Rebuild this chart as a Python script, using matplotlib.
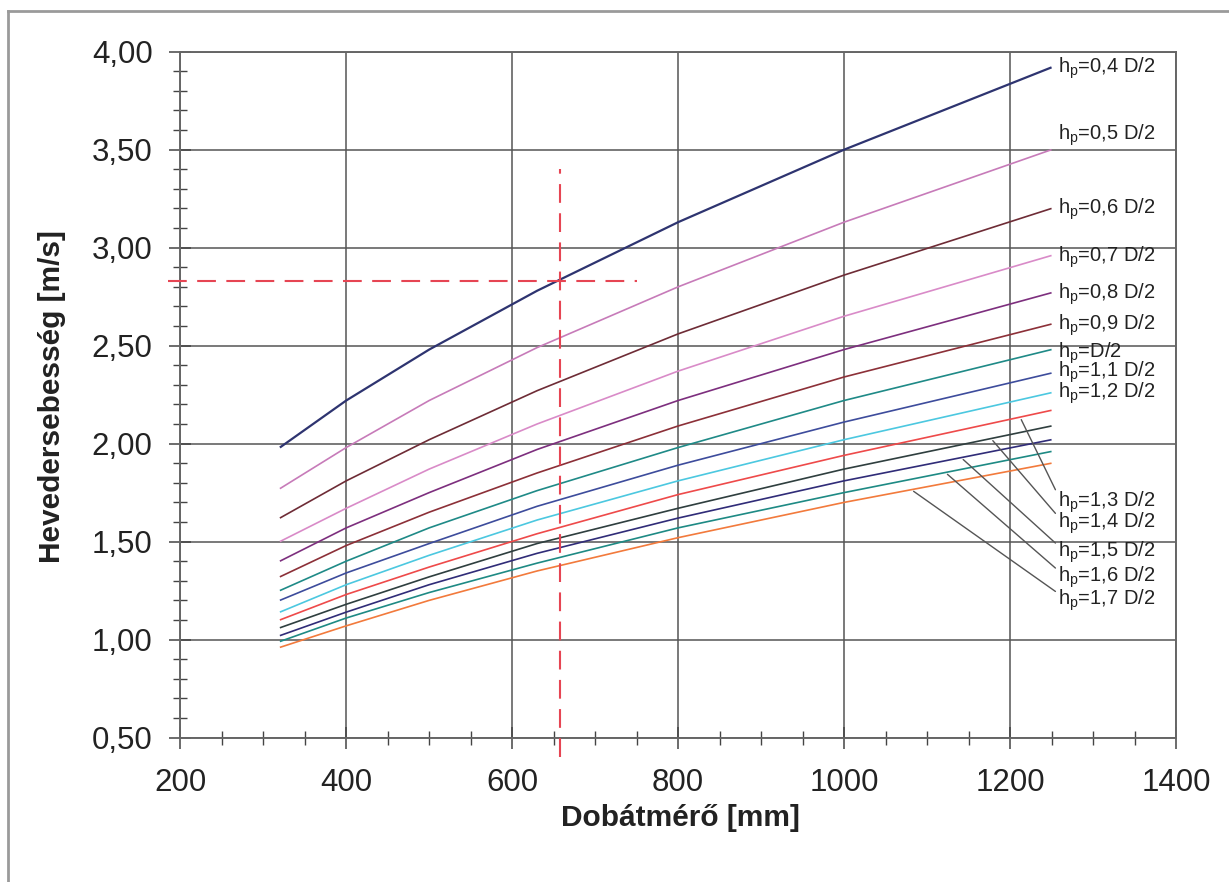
import numpy as np
import matplotlib
matplotlib.use("Agg")
import matplotlib.pyplot as plt
from matplotlib.lines import Line2D
from matplotlib.ticker import MultipleLocator, FuncFormatter

plt.rcParams["font.family"] = ["Liberation Sans", "DejaVu Sans"]
plt.rcParams["mathtext.fontset"] = "custom"
plt.rcParams["mathtext.rm"] = "Liberation Sans"
plt.rcParams["mathtext.it"] = "Liberation Sans:italic"

# drum diameters [mm]
diameters = [320, 400, 500, 630, 800, 1000, 1250]

# belt speed [m/s] for each pole distance h_p (in units of D/2)
hp_labels = ["0,4 D/2", "0,5 D/2", "0,6 D/2", "0,7 D/2", "0,8 D/2", "0,9 D/2", "D/2",
             "1,1 D/2", "1,2 D/2", "1,3 D/2", "1,4 D/2", "1,5 D/2", "1,6 D/2", "1,7 D/2"]
v_04 = [1.98, 2.22, 2.48, 2.78, 3.13, 3.50, 3.92]
v_05 = [1.77, 1.98, 2.22, 2.49, 2.80, 3.13, 3.50]
v_06 = [1.62, 1.81, 2.02, 2.27, 2.56, 2.86, 3.20]
v_07 = [1.50, 1.67, 1.87, 2.10, 2.37, 2.65, 2.96]
v_08 = [1.40, 1.57, 1.75, 1.97, 2.22, 2.48, 2.77]
v_09 = [1.32, 1.48, 1.65, 1.85, 2.09, 2.34, 2.61]
v_10 = [1.25, 1.40, 1.57, 1.76, 1.98, 2.22, 2.48]
v_11 = [1.20, 1.34, 1.49, 1.68, 1.89, 2.11, 2.36]
v_12 = [1.14, 1.28, 1.43, 1.61, 1.81, 2.02, 2.26]
v_13 = [1.10, 1.23, 1.37, 1.54, 1.74, 1.94, 2.17]
v_14 = [1.06, 1.18, 1.32, 1.49, 1.67, 1.87, 2.09]
v_15 = [1.02, 1.14, 1.28, 1.44, 1.62, 1.81, 2.02]
v_16 = [0.99, 1.11, 1.24, 1.39, 1.57, 1.75, 1.96]
v_17 = [0.96, 1.07, 1.20, 1.35, 1.52, 1.70, 1.90]
speeds = [v_04, v_05, v_06, v_07, v_08, v_09, v_10,
          v_11, v_12, v_13, v_14, v_15, v_16, v_17]

# worked example read-off: D = 658 mm -> v = 2.83 m/s
example_d = 658
example_v = 2.83

colors = ["#2e3470", "#c77bb9", "#6e2c36", "#d98bc8", "#7d2f7e", "#8c3038", "#1f8a87",
          "#3d4c9c", "#4cc8e0", "#ee4a4a", "#2f3f3f", "#302c78", "#1e8a84", "#f27a3c"]
widths = [1.6] + [1.2] * 13

# label placement on the right side
label_y = [3.917, 3.575, 3.197, 2.953, 2.764, 2.606, 2.463, 2.366, 2.259,
           1.703, 1.595, 1.447, 1.32, 1.203]
# lower curves get a leader line from this diameter on the curve
leader_from = {9: 1212, 10: 1177, 11: 1141, 12: 1122, 13: 1081}

fig = plt.figure(figsize=(12.29, 8.82), dpi=100)
ax = fig.add_axes([0.1467, 0.1638, 0.8102, 0.7776])

for v, c, lw in zip(speeds, colors, widths):
    ax.plot(diameters, v, color=c, lw=lw, solid_capstyle="butt", zorder=3)

for i, (txt, ly) in enumerate(zip(hp_labels, label_y)):
    label = r"h$_{\mathregular{p}}$=" + txt
    if i in leader_from:
        d0 = leader_from[i]
        v0 = np.interp(d0, diameters, speeds[i])
        ax.annotate(label, xy=(d0, v0), xytext=(1258, ly), fontsize=14.5,
                    color="#222222", va="center", ha="left", annotation_clip=False,
                    arrowprops=dict(arrowstyle="-", color="#555555", lw=1.0,
                                    shrinkA=0, shrinkB=2, relpos=(0, 0.75)))
    else:
        ax.text(1258, ly, label, fontsize=14.5, color="#222222", va="center",
                ha="left", clip_on=False)

# example read-off lines
ax.plot([example_d, example_d], [0.40, 3.40], color="#e64553", lw=1.5,
        dashes=(9, 5), clip_on=False, zorder=4)
ax.plot([185, 750], [example_v, example_v], color="#e64553", lw=1.5,
        dashes=(9, 5), clip_on=False, zorder=4)

ax.set_xlim(200, 1400)
ax.set_ylim(0.5, 4.0)
ax.xaxis.set_major_locator(MultipleLocator(200))
ax.xaxis.set_minor_locator(MultipleLocator(50))
ax.yaxis.set_major_locator(MultipleLocator(0.5))
ax.yaxis.set_minor_locator(MultipleLocator(0.1))
ax.yaxis.set_major_formatter(FuncFormatter(lambda y, p: f"{y:.2f}".replace(".", ",")))

ax.grid(True, which="major", color="#555555", lw=1.1, zorder=1)
ax.tick_params(which="major", direction="inout", length=16, width=1.1,
               color="#444444", labelsize=22.5, labelcolor="#222222")
ax.tick_params(axis="y", which="major", pad=12)
ax.tick_params(axis="x", which="major", pad=14)
ax.tick_params(which="minor", direction="inout", length=10, width=1.0, color="#444444")
for s in ax.spines.values():
    s.set_color("#666666")
    s.set_linewidth(1.4)

fig.text(680 / 1229, 1 - 818 / 882, "Dobátmérő [mm]", fontsize=21.5, fontweight="bold",
         color="#222222", ha="center", va="center")
fig.text(52 / 1229, 1 - 397 / 882, "Hevedersebesség [m/s]", fontsize=21.5,
         fontweight="bold", color="#222222", ha="center", va="center", rotation=90)

# outer chart frame
fig.add_artist(Line2D([0.0065, 0.0065], [0.0, 0.9875], color="#9a9a9a", lw=2))
fig.add_artist(Line2D([0.0065, 1.0], [0.9875, 0.9875], color="#9a9a9a", lw=2))

fig.savefig("out.png", dpi=100)
